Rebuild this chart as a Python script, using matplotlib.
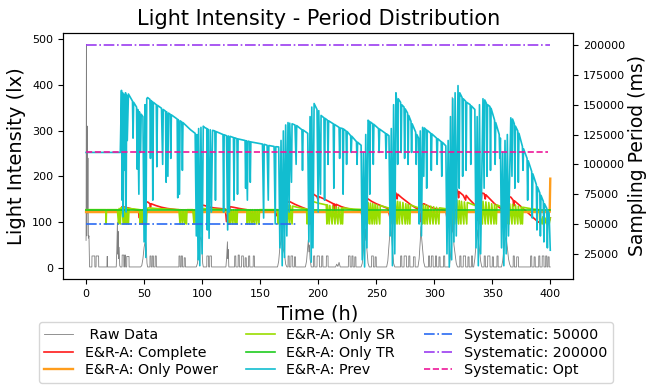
import matplotlib
matplotlib.use("Agg")
import matplotlib.pyplot as plt

# ----------------------------------
# DATA
# ----------------------------------

# raw light intensity (h, lx) - left axis
raw_points = [
    (0, 60), (0.3, 488), (0.6, 70), (1, 310), (1.3, 120), (1.6, 240), (2, 65), (2.5, 70), (3, 2),
    (5, 2), (5.1, 26), (7.5, 26), (7.6, 2), (8.6, 2), (8.7, 26), (10.8, 26), (10.9, 2),
    (18, 2), (18.1, 25), (18.4, 25), (18.5, 2),
    (26, 2), (26.5, 40), (27, 100), (27.3, 30), (27.6, 80), (28, 20), (28.5, 45), (29, 5), (29.5, 2),
    (31, 2), (31.1, 28), (32.5, 28), (32.6, 2), (33.2, 2), (33.3, 28), (34, 28), (34.1, 2),
    (35, 2), (35.1, 25), (37, 25), (37.1, 2),
    (47, 2), (48, 5), (49, 20), (50, 45), (51, 58), (51.5, 55), (52, 40), (52.5, 10), (53, 2),
    (55, 2), (55.1, 26), (56, 26), (56.1, 2), (57, 2), (57.1, 26), (58, 26), (58.1, 2),
    (59.5, 2), (59.6, 26), (60.5, 26), (60.6, 2),
    (80, 2), (80.1, 26), (81, 26), (81.1, 2), (82, 2), (82.1, 26), (83, 26), (83.1, 2),
    (84.5, 2), (84.6, 22), (85.5, 22), (85.6, 2),
    (95, 2), (96, 10), (97, 35), (98, 60), (99, 68), (99.5, 60), (100, 35), (100.5, 10), (101, 2),
    (104, 2), (104.1, 26), (105.5, 26), (105.6, 2), (106.5, 2), (106.6, 26), (108, 26), (108.1, 2),
    (120.5, 2), (121.2, 25), (121.8, 57), (122.2, 20), (122.6, 40), (123, 2),
    (128, 2), (128.1, 26), (129, 26), (129.1, 2), (131, 2), (131.1, 28), (132, 28), (132.1, 2),
    (134, 2), (134.1, 26), (135.5, 26), (135.6, 2), (137, 2), (137.1, 22), (138, 22), (138.1, 2),
    (140, 2), (140.1, 26), (141, 26), (141.1, 2), (144, 2), (144.1, 26), (145, 26), (145.1, 2),
    (165, 2), (166, 15), (167, 45), (168, 60), (168.5, 83), (169, 50), (169.5, 70), (170, 40),
    (171, 30), (172, 8), (173, 2),
    (174, 2), (174.1, 26), (175, 26), (175.1, 2), (176.5, 2), (176.6, 26), (178, 26), (178.1, 2),
    (179.5, 2), (179.6, 24), (180.5, 24), (180.6, 2),
    (189, 2), (190, 15), (191, 45), (191.5, 61), (192, 35), (192.5, 50), (193, 20), (194, 2),
    (196, 2), (196.1, 26), (197, 26), (197.1, 2), (199, 2), (199.1, 26), (201, 26), (201.1, 2),
    (203, 2), (203.1, 26), (204, 26), (204.1, 2), (207, 2), (207.1, 26), (208.5, 26), (208.6, 2),
    (215, 2), (216, 8), (217, 3), (218, 12), (219, 2),
    (226, 2), (226.1, 26), (227.5, 26), (227.6, 2), (229, 2), (229.1, 26), (230, 26), (230.1, 2),
    (231.5, 2), (231.6, 24), (232.5, 24), (232.6, 2),
    (237, 2), (238, 10), (239, 40), (239.5, 70), (240, 98), (240.5, 60), (241, 85), (242, 40),
    (243, 10), (244, 2),
    (246, 2), (246.1, 26), (247.5, 26), (247.6, 2), (249, 2), (249.1, 24), (250, 24), (250.1, 2),
    (259, 2), (260, 15), (261, 50), (262, 85), (262.5, 100), (263, 80), (264, 45), (265, 10), (266, 2),
    (271, 2), (271.1, 26), (272, 26), (272.1, 2), (274, 2), (274.1, 26), (276, 26), (276.1, 2),
    (278, 2), (278.1, 26), (279, 26), (279.1, 2), (282, 2), (282.1, 24), (283.5, 24), (283.6, 2),
    (286, 2), (287, 20), (288, 60), (288.5, 90), (289, 70), (290, 40), (291, 12), (292, 2),
    (295, 2), (295.1, 26), (296, 26), (296.1, 2), (297.5, 2), (297.6, 26), (299, 26), (299.1, 2),
    (301, 2), (301.1, 26), (302, 26), (302.1, 2), (304, 2), (304.1, 24), (305, 24), (305.1, 2),
    (308, 2), (308.1, 26), (309, 26), (309.1, 2),
    (313, 2), (314, 25), (315, 60), (315.5, 373), (315.8, 80), (316.5, 75), (317, 50), (318, 30),
    (319, 10), (320, 2),
    (322, 2), (322.1, 26), (323, 26), (323.1, 2), (325, 2), (325.1, 26), (327, 26), (327.1, 2),
    (329, 2), (329.1, 24), (330, 24), (330.1, 2), (332, 2), (332.1, 26), (333, 26), (333.1, 2),
    (334, 2), (335, 20), (336, 50), (337, 70), (337.5, 83), (338, 60), (339, 40), (340, 15), (341, 2),
    (343, 2), (343.1, 26), (344, 26), (344.1, 2), (346, 2), (346.1, 26), (348, 26), (348.1, 2),
    (350, 2), (350.1, 24), (351, 24), (351.1, 2), (354, 2), (354.1, 26), (355, 26), (355.1, 2),
    (358, 2), (359, 15), (360, 40), (361, 60), (362, 68), (362.5, 55), (363, 45), (364, 20),
    (365, 8), (366, 2),
    (368, 2), (368.1, 26), (369, 26), (369.1, 2), (371, 2), (371.1, 24), (372.5, 24), (372.6, 2),
    (383, 2), (383.1, 26), (384, 26), (384.1, 2), (386, 2), (386.1, 24), (387, 24), (387.1, 2),
    (390, 2), (390.1, 26), (391, 26), (391.1, 2), (393, 2), (393.1, 26), (394.5, 26), (394.6, 2),
    (396, 2), (396.1, 26), (397, 26), (397.1, 2), (398, 2), (398.1, 24), (399, 24), (399.1, 2),
    (400, 2),
]

# E&R-A: Complete (h, ms)
complete_points = [
    (0, 61500), (30, 61500), (31, 64500), (34, 64000), (38, 63000), (42, 62000), (45, 61500),
    (46, 55000), (46.5, 61000), (47.5, 52000), (48, 60000), (49, 50000), (50, 56000), (50.5, 50500),
    (51.5, 68000), (53, 68500), (55, 67000), (55.5, 64000), (56, 67000), (60, 65500), (65, 64000),
    (70, 63000), (78, 62000), (92, 61500), (93, 58000), (94, 61000), (95, 52000), (96, 60000),
    (97, 51000), (98, 57000), (99, 66000), (102, 65500), (105, 64500), (110, 63500), (115, 63000),
    (120, 62500), (121, 52000), (122, 58000), (123, 50000), (124, 64500), (127, 64000), (132, 63000),
    (138, 62000), (141, 61500), (142, 56000), (142.5, 61500), (144, 52000), (145, 61500),
    (163, 61500), (164, 57000), (165, 61000), (166, 52000), (167, 60000), (168, 50000), (169, 56000),
    (170, 50500), (171, 70000), (173, 69500), (174, 68000), (175, 69000), (180, 66500), (186, 64000),
    (190, 62500), (191, 54000), (192, 60000), (193, 50000), (194, 74000), (196, 75000), (199, 73000),
    (200, 70000), (200.5, 73000), (205, 71000), (210, 68500), (213, 67000), (213.5, 58000),
    (214, 66800), (215, 55000), (215.5, 66500), (220, 64500), (225, 63000), (230, 62000),
    (237, 61500), (238, 55000), (239, 60000), (240, 50000), (241, 70000), (243, 71000), (246, 69000),
    (250, 67000), (255, 65000), (260, 63000), (262, 55000), (263, 62000), (264, 50000), (265, 74000),
    (267, 76000), (268, 71000), (268.5, 75000), (272, 72000), (276, 69000), (280, 66000),
    (284, 63500), (287, 62000), (288, 52000), (289, 66000), (291, 67000), (295, 65000), (300, 63000),
    (305, 62000), (310, 61500), (311, 55000), (312, 61000), (313, 50000), (314, 60000), (315, 52000),
    (317, 76000), (320, 78500), (321, 72000), (321.5, 77000), (325, 74000), (327, 70000),
    (327.5, 74000), (330, 71000), (334, 67000), (336, 65000), (337, 53000), (338, 62000),
    (339, 51000), (341, 76000), (343, 75500), (344, 71000), (344.5, 74500), (348, 71000),
    (352, 67000), (356, 64000), (359, 62000), (360, 52000), (361, 60000), (362, 50000), (364, 73000),
    (366, 72500), (368, 70000), (368.5, 65000), (369, 69500), (372, 67000), (376, 63500),
    (380, 60000), (384, 56500), (388, 53000), (390, 51500), (392, 52000), (396, 51500), (399, 52000),
    (400, 55000),
]

# E&R-A: Only Power (h, ms)
power_points = [(0, 60000), (399.5, 60000), (400, 88000)]

# E&R-A: Only SR (h, ms)
sr_points = [
    (0, 62000), (17, 62000), (17.3, 50000), (17.6, 62000), (27, 62000), (28, 50000), (28.5, 63000),
    (29.5, 50000), (30, 63500), (31, 64000), (32, 50000), (32.5, 64000), (33.5, 50000), (34, 64000),
    (35, 50000), (35.5, 63500), (36.5, 50000), (37, 63000), (42, 62500), (46, 62000), (46.5, 50000),
    (47, 62000), (48, 50000), (48.5, 62000), (50, 50000), (50.5, 62000), (52, 50000), (52.5, 63000),
    (54, 63500), (60, 63000), (70, 62500), (80, 62000), (81, 50000), (81.5, 62000), (83, 50000),
    (83.5, 62000), (85, 50000), (85.5, 62000), (86.5, 50000), (87, 62000), (92, 62000), (93, 50000),
    (93.5, 62000), (95, 50000), (95.5, 62000), (97, 50000), (97.5, 62000), (100, 63000),
    (110, 62500), (122, 62000), (122.5, 50000), (123, 62000), (124.5, 50000), (125, 62000),
    (126.5, 50000), (127, 62000), (128.5, 50000), (129, 62000), (130, 50000), (130.5, 62000),
    (138.5, 62000), (139, 50000), (139.5, 62000), (141, 50000), (141.5, 62000), (143, 50000),
    (143.5, 62000), (145, 50000), (145.5, 62000), (147, 50000), (147.5, 62000), (149, 50000),
    (149.5, 62000), (165, 62000), (165.5, 50000), (166, 62000), (167.5, 50000), (168, 62000),
    (169.5, 50000), (170, 66000), (171.5, 50000), (172, 66500), (173.5, 50000), (174, 66000),
    (175.5, 50000), (176, 65500), (177.5, 50000), (178, 65000), (182, 64000), (187, 63000),
    (190, 62500), (190.5, 50000), (191, 62500), (192.5, 50000), (193, 68000), (194.5, 50000),
    (195, 69000), (200, 67500), (207, 66000), (207.5, 50000), (208, 66000), (209.5, 50000),
    (210, 65500), (212, 50000), (212.5, 65000), (214.5, 50000), (215, 64500), (217, 50000),
    (217.5, 64000), (219.5, 50000), (220, 63500), (221, 50000), (221.5, 63500), (230, 62500),
    (242, 62000), (242.5, 50000), (243, 68000), (244.5, 50000), (245, 67500), (246.5, 50000),
    (247, 67000), (248.5, 50000), (249, 66500), (250.5, 50000), (251, 66000), (253, 50000),
    (253.5, 65500), (262, 63000), (264, 50000), (264.5, 70000), (266, 50000), (266.5, 70000),
    (268, 50000), (268.5, 69000), (270, 50000), (270.5, 68500), (272.5, 50000), (273, 68000),
    (275, 50000), (275.5, 67000), (277, 50000), (277.5, 66500), (279, 50000), (279.5, 66000),
    (285, 64000), (289, 63000), (290, 50000), (290.5, 66000), (292, 50000), (292.5, 66000),
    (294, 50000), (294.5, 65500), (296.5, 50000), (297, 65000), (299, 50000), (299.5, 64500),
    (301.5, 50000), (302, 64000), (304, 50000), (304.5, 63500), (312, 62500), (313, 50000),
    (313.5, 62500), (315, 50000), (315.5, 69000), (317, 50000), (317.5, 70000), (319, 50000),
    (319.5, 70000), (321, 50000), (321.5, 69500), (323, 50000), (323.5, 69000), (325.5, 50000),
    (326, 68500), (328, 50000), (328.5, 68000), (334, 66000), (339, 64000), (339.5, 50000),
    (340, 69000), (341.5, 50000), (342, 69000), (344, 50000), (344.5, 68500), (346.5, 50000),
    (347, 68000), (349, 50000), (349.5, 67000), (351.5, 50000), (352, 66500), (353.5, 50000),
    (354, 66000), (359, 64000), (362, 63000), (362.5, 50000), (363, 67000), (364.5, 50000),
    (365, 67000), (367, 50000), (367.5, 66500), (369.5, 50000), (370, 66000), (372, 50000),
    (372.5, 65000), (374.5, 50000), (375, 64500), (376, 50000), (376.5, 64000), (385, 62500),
    (390.5, 62000), (391, 50000), (391.5, 55000), (393, 50000), (393.5, 56000), (395, 50000),
    (395.5, 55000), (397, 50000), (397.5, 54000), (399, 50000), (400, 55000),
]

# E&R-A: Only TR (h, ms)
tr_points = [(0, 61500), (400, 61500)]

# E&R-A: Prev (h, ms)
prev_points = [
    (0, 110000), (29.5, 110000),
    (30.5, 162000), (31, 70000), (31.5, 160000), (32, 56000), (32.8, 158000), (33.3, 95000),
    (34, 160000), (34.5, 60000), (35, 158000), (35.5, 120000), (36.5, 159000),
    (40, 153000), (40.5, 122000), (41, 152000), (43.5, 148000), (44, 96000), (44.5, 146000),
    (45.5, 75000), (46, 144000), (47, 110000), (47.5, 142000), (49, 140000),
    (50, 35000), (50.8, 150000), (51.5, 22000), (52.3, 155000),
    (53, 156000), (55, 154500), (55.5, 105000), (56, 153500), (57, 152500), (57.5, 70000),
    (58, 152000), (60.5, 150000), (61, 98000), (61.5, 149500), (65, 147000), (66, 100000),
    (66.5, 146000), (68.5, 144500), (69, 85000), (69.5, 144000), (70.5, 90000), (71, 143000),
    (72.5, 142000), (73, 105000), (73.5, 141500), (78.5, 138000), (79, 72000), (79.5, 137500),
    (80.5, 75000), (81, 136500), (82.5, 135500), (83, 95000), (83.5, 135000), (90, 129000),
    (92, 127500), (94, 126000),
    (95, 40000), (95.5, 125000), (96.5, 20000), (97, 130000), (98, 15000), (99, 131000),
    (100, 25000), (101, 132000),
    (102, 131000), (104, 130000), (104.5, 45000), (105, 129500), (106, 38000), (107, 129000),
    (108, 60000), (109, 128500), (111, 128000), (111.5, 70000), (112, 127500), (118, 125000),
    (118.5, 60000), (119, 124800), (121, 124000), (122, 45000), (122.5, 123800), (123.5, 60000),
    (124, 123500), (127, 122500), (127.5, 70000), (128, 122300), (130, 121500), (130.5, 75000),
    (131, 121300), (137, 120000), (137.5, 80000), (138, 119800), (139, 70000), (139.5, 119500),
    (141, 119000), (141.5, 85000), (142, 118800), (152, 117000), (153, 55000), (153.5, 116800),
    (156, 116000), (157, 70000), (157.5, 115800), (162, 115000), (163, 50000), (163.5, 114800),
    (166, 114600),
    (167, 30000), (168, 120000), (169, 15000), (170, 128000), (171, 22000), (172, 133000),
    (173, 40000), (174, 135000),
    (175, 60000), (175.5, 134500), (177, 85000), (177.5, 134000), (180, 133000), (181, 100000),
    (181.5, 132500), (186, 129000), (186.5, 95000), (187, 128800), (191, 126000),
    (192, 35000), (193, 140000), (194, 18000), (194.5, 148000), (195.5, 30000), (196.5, 151000),
    (199, 146000), (200, 60000), (200.5, 145000), (202, 75000), (202.5, 141000), (205, 139000),
    (205.5, 70000), (206, 138500), (208, 137000), (208.5, 100000), (209, 136500), (213, 134000),
    (213.5, 80000), (214, 133500), (218, 131000), (218.5, 105000), (219, 130500), (221, 130000),
    (221.5, 75000), (222, 129500), (224, 128000), (224.5, 100000), (225, 127500), (228, 124000),
    (228.5, 110000), (229, 123500), (233, 119000), (233.5, 100000), (234, 118500), (237, 116000),
    (238, 20000), (239, 110000), (240, 14000), (241, 125000), (242, 30000), (243, 137000),
    (244, 136000), (244.5, 75000), (245, 135500), (247, 134000), (247.5, 100000), (248, 133500),
    (252, 130000), (252.5, 110000), (253, 129500), (258, 126000), (258.5, 105000), (259, 125500),
    (261, 124000),
    (262, 40000), (263, 130000), (264, 15000), (265, 150000), (266, 25000), (267, 160000),
    (268, 150000), (268.5, 100000), (269, 155000), (271, 152000), (271.5, 110000), (272, 150000),
    (274, 148000), (274.5, 105000), (275, 146500), (277, 143000), (277.5, 100000), (278, 141000),
    (280, 136000), (280.5, 110000), (281, 134000), (284, 127000), (284.5, 100000), (285, 125000),
    (286.5, 122000),
    (287, 50000), (288, 128000), (289, 40000), (290, 131000),
    (291, 90000), (291.5, 130500), (293, 129000), (293.5, 80000), (294, 128500), (297, 126000),
    (297.5, 95000), (298, 125500), (302, 122000), (302.5, 100000), (303, 121500), (306, 119000),
    (306.5, 90000), (307, 118500), (310, 115500),
    (311, 25000), (312, 120000), (313, 14000), (314, 140000), (315, 20000), (316, 155000),
    (317, 35000), (318, 160000), (319, 40000), (320.5, 166000),
    (321.5, 80000), (322, 160000), (324, 156000), (324.5, 90000), (325, 155000), (327, 153000),
    (327.5, 95000), (328, 152000), (331, 150000), (331.5, 100000), (332, 149000), (335, 146000),
    (336, 30000), (337, 140000), (338, 15000), (339, 150000), (340, 25000), (342, 155000),
    (343, 80000), (343.5, 154000), (345, 151000), (345.5, 90000), (346, 150000), (348, 148500),
    (348.5, 95000), (349, 147000), (352, 137000), (352.5, 100000), (353, 135000), (356, 125000),
    (356.5, 105000), (357, 122000),
    (358, 30000), (359, 110000), (360, 15000), (361, 120000), (362, 25000), (363, 125000),
    (364, 40000), (366, 139000),
    (367, 90000), (367.5, 138000), (369, 134000), (369.5, 80000), (370, 132000), (372, 128000),
    (372.5, 85000), (373, 126000), (376, 115000), (376.5, 95000), (377, 113000), (380, 105000),
    (380.5, 70000), (381, 103000), (384, 94000), (384.5, 55000), (385, 92000), (388, 83000),
    (388.5, 45000), (389, 81000), (391, 76000), (391.5, 40000), (392, 74000), (394, 69000),
    (394.5, 35000), (395, 67000), (397, 63000), (397.5, 30000), (398, 61000), (399, 59000),
    (400, 28000),
]

# systematic sampling periods (h, ms)
sys_50000 = [(0, 50000), (182, 50000)]
sys_200000 = [(0, 200000), (400, 200000)]
sys_opt = [(0, 110000), (398, 110000)]


def unzip(points):
    return [p[0] for p in points], [p[1] for p in points]


# ----------------------------------
# PLOT
# ----------------------------------

fig, ax = plt.subplots(figsize=(6.48, 3.9), dpi=100)
fig.subplots_adjust(left=0.097, right=0.885, bottom=0.285, top=0.915)
ax2 = ax.twinx()

t, v = unzip(raw_points)
ax.plot(t, v, color="black", linewidth=0.6, alpha=0.5, label=" Raw Data")

series = [
    (complete_points, "#ff1a1a", "-", 1.2, "E&R-A: Complete"),
    (power_points, "#ff9d1c", "-", 1.7, "E&R-A: Only Power"),
    (sr_points, "#99dd00", "-", 1.2, "E&R-A: Only SR"),
    (tr_points, "#1fcc1f", "-", 1.2, "E&R-A: Only TR"),
    (prev_points, "#12bdd0", "-", 1.2, "E&R-A: Prev"),
    (sys_50000, "#2a6bf2", "-.", 1.2, "Systematic: 50000"),
    (sys_200000, "#9b3cf0", "-.", 1.2, "Systematic: 200000"),
    (sys_opt, "#ee1899", "--", 1.2, "Systematic: Opt"),
]

for pts, color, ls, lw, label in series:
    t, v = unzip(pts)
    ax2.plot(t, v, color=color, linestyle=ls, linewidth=lw, label=label)

ax.set_xlim(-20, 420)
ax.set_ylim(-24, 513)
ax2.set_ylim(4000, 210000)

ax.set_xticks(range(0, 401, 50))
ax.set_yticks(range(0, 501, 100))
ax2.set_yticks(range(25000, 200001, 25000))
ax.tick_params(labelsize=8)
ax2.tick_params(labelsize=8)

ax.set_title("Light Intensity - Period Distribution", fontsize=15)
ax.set_xlabel("Time (h)", fontsize=14, labelpad=4)
ax.set_ylabel("Light Intensity (lx)", fontsize=14)
ax2.set_ylabel("Sampling Period (ms)", fontsize=13.5, labelpad=2)

h1, l1 = ax.get_legend_handles_labels()
h2, l2 = ax2.get_legend_handles_labels()
ax2.legend(
    h1 + h2, l1 + l2,
    loc="upper center",
    bbox_to_anchor=(0.515, -0.148),
    ncol=3,
    fontsize=10.3,
    handlelength=2,
    labelspacing=0.25,
)

fig.savefig("out.png", dpi=100)
